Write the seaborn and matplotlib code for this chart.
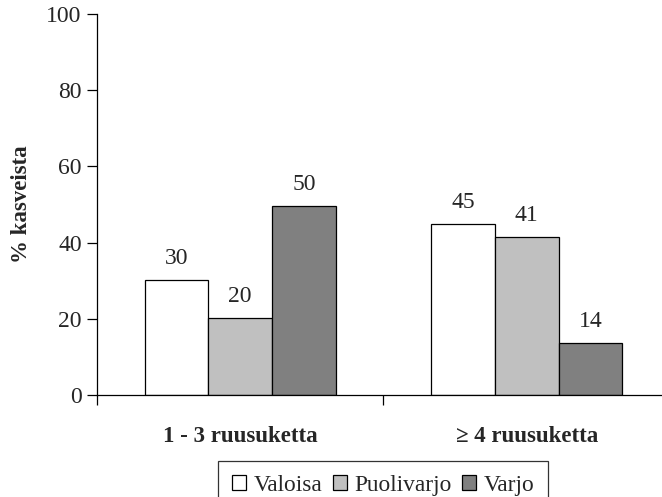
import numpy as np
import pandas as pd
import matplotlib
matplotlib.use('Agg')
import matplotlib.pyplot as plt
import seaborn as sns

categories = ['1 - 3 ruusuketta', '≥ 4 ruusuketta']
series = ['Valoisa', 'Puolivarjo', 'Varjo']
valoisa = [30.3, 44.8]
puolivarjo = [20.2, 41.5]
varjo = [49.5, 13.7]
value_labels = {'Valoisa': ['30', '45'], 'Puolivarjo': ['20', '41'], 'Varjo': ['50', '14']}
colors = ['#ffffff', '#c0c0c0', '#808080']

df = pd.DataFrame({
    'ryhma': categories * 3,
    'valo': np.repeat(series, len(categories)),
    'osuus': valoisa + puolivarjo + varjo,
})

sns.set_style('white')
plt.rcParams['font.family'] = ['Liberation Serif', 'DejaVu Serif']
fs = 17

fig = plt.figure(figsize=(6.62, 4.97), dpi=100)
ax = fig.add_axes([97 / 662, 101.7 / 497, 573 / 662, 381.5 / 497])

sns.barplot(data=df, x='ryhma', y='osuus', hue='valo', hue_order=series,
            order=categories, palette=colors, width=0.667, saturation=1,
            edgecolor='black', linewidth=0.9, ax=ax)

for cont, name in zip(ax.containers, series):
    ax.bar_label(cont, labels=value_labels[name], padding=8, fontsize=fs)

ax.set_ylim(0, 100)
ax.set_xlim(-0.5, 1.5)
ax.set_yticks(np.arange(0, 101, 20))
ax.tick_params(axis='y', labelsize=fs, length=7, width=0.9, direction='out',
               left=True, color='black', pad=4)
ax.set_xticks([0, 1])
ax.set_xticklabels(categories, fontsize=16.5, fontweight='bold')
ax.tick_params(axis='x', length=0, pad=22)
ax.set_xticks([-0.5, 0.5, 1.5], minor=True)
ax.tick_params(axis='x', which='minor', length=7, width=0.9, direction='out',
               bottom=True, color='black')

for s in ['top', 'right']:
    ax.spines[s].set_visible(False)
for s in ['left', 'bottom']:
    ax.spines[s].set_color('black')
    ax.spines[s].set_linewidth(0.9)

ax.set_xlabel('')
ax.set_ylabel('% kasveista', fontsize=16.5, fontweight='bold', labelpad=10)

handles, labels = ax.get_legend_handles_labels()
ax.get_legend().remove()
leg = fig.legend(handles, labels, loc='lower center', bbox_to_anchor=(383 / 662, -0.026),
                 ncol=3, fontsize=16.8, frameon=True, fancybox=False,
                 handlelength=0.62, handleheight=0.62, handletextpad=0.3,
                 columnspacing=0.45, borderpad=0.6, borderaxespad=0)
leg.get_frame().set_edgecolor('black')
leg.get_frame().set_linewidth(0.9)

fig.savefig('out.png', dpi=100)
